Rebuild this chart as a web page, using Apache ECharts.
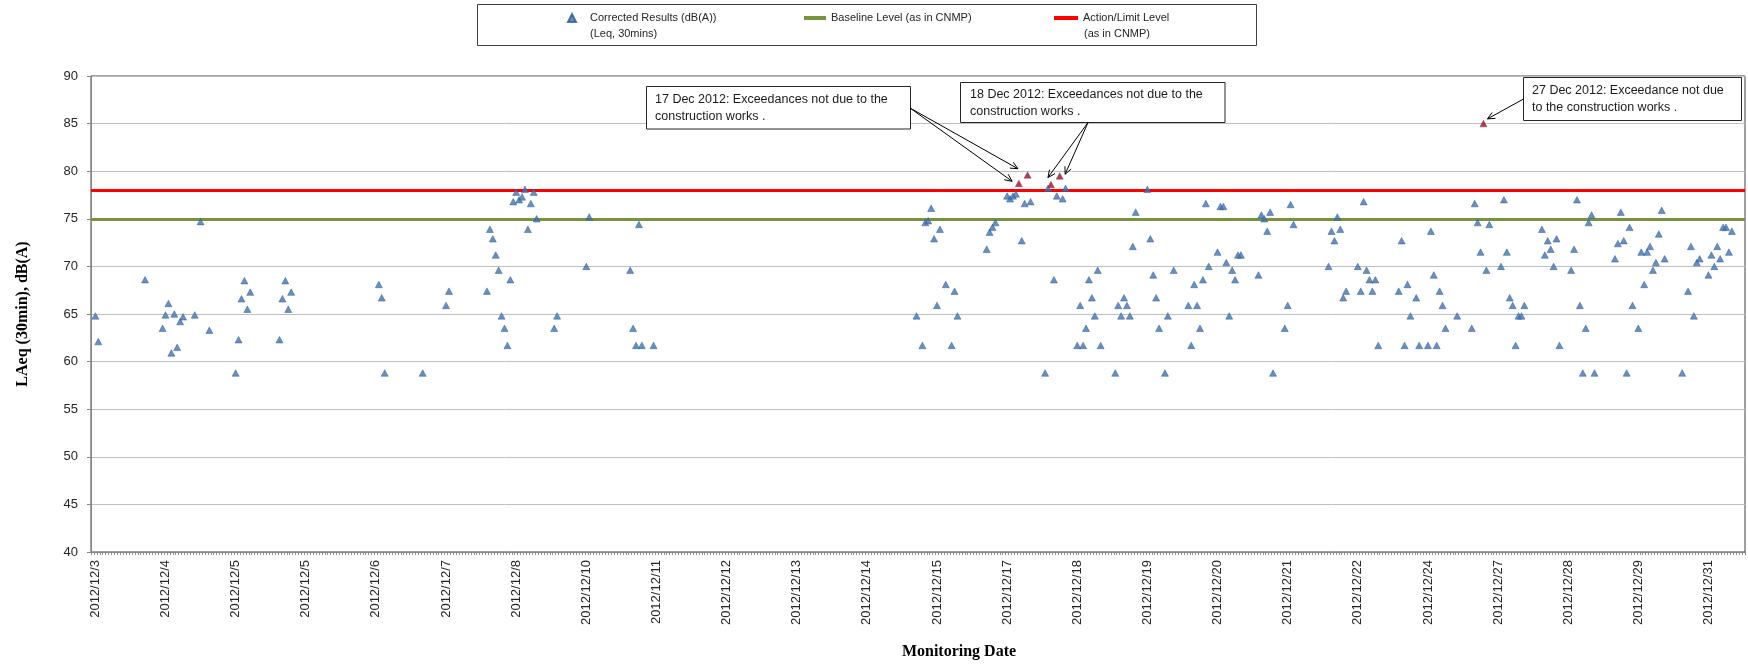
<!DOCTYPE html>
<html>
<head>
<meta charset="utf-8">
<script src="https://cdn.jsdelivr.net/npm/echarts@6/dist/echarts.min.js"></script>
<style>
html,body{margin:0;padding:0;background:#fff;}
#c{width:1748px;height:665px;}
</style>
</head>
<body>
<div id="c"></div>
<script>
// ---------------- data ----------------
const tickLabels = ['2012/12/3','2012/12/4','2012/12/5','2012/12/5','2012/12/6','2012/12/7','2012/12/8','2012/12/10','2012/12/11','2012/12/12','2012/12/13','2012/12/14','2012/12/15','2012/12/17','2012/12/18','2012/12/19','2012/12/20','2012/12/21','2012/12/22','2012/12/24','2012/12/27','2012/12/28','2012/12/29','2012/12/31'];
const categoryCount = 566;   // half-hour records on the category axis
const labelStart = 1;        // first labelled record
const labelStep = 24;        // one label every 24 records

const resultIdx = [
  1,2,18,24,25,26,27,28,29,30,31,35,37,40,49,50,51,52,53,54,64,65,66,67,68,
  98,99,100,113,121,122,135,136,137,138,139,140,141,142,143,144,145,146,147,148,149,150,151,152,158,159,169,170,184,185,186,187,188,192,
  282,284,285,286,287,288,289,290,292,294,295,296,306,307,308,309,313,314,315,316,318,319,321,326,327,329,330,332,333,337,338,339,340,341,342,343,344,345,350,351,352,353,354,355,356,357,361,362,363,364,365,367,368,370,
  375,376,377,378,379,380,381,382,385,386,387,388,389,390,391,392,393,399,400,401,402,403,404,408,409,410,411,423,424,425,426,427,428,429,433,434,435,436,437,438,439,440,447,448,449,450,451,453,454,457,458,459,460,461,462,463,467,
  472,473,474,475,477,478,482,483,484,485,486,487,488,489,490,496,497,498,499,500,501,502,506,507,508,509,510,511,512,513,514,521,522,523,524,525,526,527,529,530,531,532,533,534,535,536,537,538,544,546,547,548,549,550,553,554,555,556,557,558,559,560,561
];
const resultVal = [
  64.8,62.1,68.6,63.5,64.9,66.1,60.9,65.0,61.5,64.2,64.7,64.9,74.7,63.3,58.8,62.3,66.6,68.5,65.5,67.3,62.3,66.6,68.5,65.5,67.3,
  68.1,66.7,58.8,58.8,65.9,67.4,67.4,73.9,72.9,71.2,69.6,64.8,63.5,61.7,68.6,76.8,77.8,77.0,77.3,78.1,73.9,76.6,77.8,75.0,63.5,64.8,70.0,75.2,69.6,63.5,61.7,74.4,61.7,61.7,
  64.8,61.7,74.6,74.8,76.1,72.9,65.9,73.9,68.1,61.7,67.4,64.8,71.8,73.6,74.1,74.6,77.4,77.1,77.4,77.6,72.7,76.6,76.8,58.8,78.2,68.6,77.4,77.1,78.2,61.7,65.9,61.7,63.5,68.6,66.7,64.8,69.6,61.7,58.8,65.9,64.8,66.7,65.9,64.8,72.1,75.7,78.1,72.9,69.1,66.7,63.5,58.8,64.8,69.6,
  65.9,61.7,68.1,65.9,63.5,68.6,76.6,70.0,71.5,76.3,76.3,70.4,64.8,69.6,68.6,71.2,71.2,69.1,75.4,75.0,73.7,75.7,58.8,63.5,65.9,76.5,74.4,70.0,73.7,72.7,75.2,73.9,66.7,67.4,70.0,67.4,76.8,69.6,68.6,67.4,68.6,61.7,67.4,72.7,61.7,68.1,64.8,66.7,61.7,61.7,73.7,69.1,61.7,67.4,65.9,63.5,64.8,
  63.5,76.6,74.6,71.5,69.6,74.4,70.0,77.0,71.5,66.7,65.9,61.7,64.8,64.8,65.9,73.9,71.2,72.7,71.8,70.0,72.9,61.7,69.6,71.8,77.0,65.9,58.8,63.5,74.6,75.4,58.8,70.8,72.4,75.7,72.7,58.8,74.1,65.9,63.5,71.5,68.1,71.5,72.1,69.6,70.4,73.4,75.9,70.8,58.8,67.4,72.1,64.8,70.4,70.8,69.1,71.2,70.0,72.1,70.8,74.1,74.1,71.5,73.7
];
// exceedances (drawn red)
const exceedIdx = [317,320,328,331,476];
const exceedVal = [78.7,79.6,78.6,79.5,85.0];

const baselineLevel = 75;
const limitLevel = 78;

const seriesNames = ['Corrected Results (dB(A))', 'Baseline Level (as in CNMP)', 'Action/Limit Level'];
const noteTexts = [
  '17 Dec 2012: Exceedances not due to the\nconstruction works .',
  '18 Dec 2012: Exceedances not due to the\nconstruction works .',
  '27 Dec 2012: Exceedance not due\nto the construction works .'
];

// ---------------- chart ----------------
const FONT = "'Liberation Sans', Arial, sans-serif";
const SERIF = "'Liberation Serif', 'Times New Roman', serif";
const categories = Array.from({length: categoryCount}, (_, i) => String(i));
const chart = echarts.init(document.getElementById('c'), null, {renderer: 'canvas'});

const legendCommon = {
  orient: 'horizontal', padding: 0, selectedMode: false, itemGap: 0,
  textStyle: {fontFamily: FONT, fontSize: 11, color: '#262626', lineHeight: 14}
};

const option = {
  animation: false,
  backgroundColor: '#fff',
  grid: {left: 91, right: 3, top: 76, bottom: 113, show: true, borderColor: '#404040', borderWidth: 1, containLabel: false, outerBoundsMode: 'none'},
  legend: [
    Object.assign({}, legendCommon, {left: 567, top: 11, itemWidth: 26, itemHeight: 8,
      data: [{name: seriesNames[0], icon: 'path://M5,0 L10,10 L0,10 Z'}]}),
    Object.assign({}, legendCommon, {left: 804, top: 11, itemWidth: 22, itemHeight: 4,
      data: [{name: seriesNames[1], icon: 'rect'}]}),
    Object.assign({}, legendCommon, {left: 1054, top: 11, itemWidth: 24, itemHeight: 4,
      data: [{name: seriesNames[2], icon: 'rect'}]})
  ],
  xAxis: {
    type: 'category',
    data: categories,
    boundaryGap: true,
    name: 'Monitoring Date',
    nameLocation: 'middle',
    nameGap: 92,
    nameTextStyle: {fontFamily: SERIF, fontWeight: 'bold', fontSize: 16, color: '#000', padding: [0, 0, 0, 82]},
    axisLine: {show: true, lineStyle: {color: '#868686', width: 1}},
    axisTick: {show: true, interval: 0, length: 3, lineStyle: {color: '#8c8c8c', width: 1}},
    axisLabel: {
      show: true,
      interval: (i) => (i - labelStart) % labelStep === 0 && i >= labelStart,
      formatter: (v, i) => {
        const k = (i - labelStart) / labelStep;
        return Number.isInteger(k) && k >= 0 && k < tickLabels.length ? tickLabels[k] : '';
      },
      rotate: 90,
      margin: 8,
      fontFamily: FONT, fontSize: 13, color: '#262626'
    },
    splitLine: {show: false}
  },
  yAxis: {
    type: 'value',
    min: 40, max: 90, interval: 5,
    name: 'LAeq (30min), dB(A)',
    nameLocation: 'middle',
    nameRotate: 90,
    nameGap: 60,
    nameTextStyle: {fontFamily: SERIF, fontWeight: 'bold', fontSize: 16, color: '#000'},
    axisLine: {show: true, lineStyle: {color: '#868686', width: 1}},
    axisTick: {show: true, length: 4, lineStyle: {color: '#868686'}},
    axisLabel: {margin: 13, fontFamily: FONT, fontSize: 13, color: '#262626'},
    splitLine: {show: true, lineStyle: {color: '#bfbfbf', width: 1}}
  },
  series: [
    {
      name: seriesNames[0],
      type: 'scatter',
      symbol: 'triangle',
      symbolSize: [7, 6.5],
      itemStyle: {color: '#4472b0', borderColor: '#2d5a92', borderWidth: 0.6},
      data: resultIdx.map((x, i) => [x, resultVal[i]]),
      z: 5
    },
    {
      name: 'Exceedance',
      type: 'scatter',
      symbol: 'triangle',
      symbolSize: [7, 6.5],
      itemStyle: {color: '#c00000', borderColor: '#3a5f93', borderWidth: 0.6},
      data: exceedIdx.map((x, i) => [x, exceedVal[i]]),
      z: 6
    },
    {
      name: seriesNames[1],
      type: 'line',
      data: [],
      itemStyle: {color: '#77933c'},
      lineStyle: {color: '#77933c'},
      markLine: {silent: true, symbol: 'none', label: {show: false},
        lineStyle: {color: '#77933c', width: 3, type: 'solid'},
        data: [{yAxis: baselineLevel}]},
      z: 3
    },
    {
      name: seriesNames[2],
      type: 'line',
      data: [],
      itemStyle: {color: '#ff0000'},
      lineStyle: {color: '#ff0000'},
      markLine: {silent: true, symbol: 'none', label: {show: false},
        lineStyle: {color: '#ff0000', width: 3, type: 'solid'},
        data: [{yAxis: limitLevel}]},
      z: 3
    }
  ]
};
chart.setOption(option);

// ---------------- annotations ----------------
const notes = [
  {box: [646.5, 86.5, 264, 42.5], textX: 655, line1: 99.3, text: noteTexts[0], start: [910, 108],
   targets: [{i: 0, dx: -6.7, dy: -2.3}, {i: 1, dx: -9.7, dy: -6.3}]},
  {box: [960.5, 82.5, 264.5, 40], textX: 970, line1: 94.7, text: noteTexts[1], start: [1088, 122.5],
   targets: [{i: 2, dx: -3, dy: -7}, {i: 3, dx: 5.4, dy: -1.7}]},
  {box: [1523.5, 77.5, 218, 43], textX: 1532, line1: 90.7, text: noteTexts[2], start: [1523.5, 99],
   targets: [{i: 4, dx: 4, dy: -4.7}]}
];

function buildGraphics() {
  const els = [];
  els.push({type: 'rect', silent: true, shape: {x: 477.5, y: 4.5, width: 779, height: 41},
    style: {fill: 'none', stroke: '#404040', lineWidth: 1}});
  els.push({type: 'text', silent: true, x: 590, y: 33.5,
    style: {text: '(Leq, 30mins)', fontFamily: FONT, fontSize: 11, fill: '#262626', verticalAlign: 'middle'}});
  els.push({type: 'text', silent: true, x: 1084, y: 33.5,
    style: {text: '(as in CNMP)', fontFamily: FONT, fontSize: 11, fill: '#262626', verticalAlign: 'middle'}});
  const LH = 17;
  notes.forEach(n => {
    els.push({type: 'rect', silent: true, z: 20, shape: {x: n.box[0], y: n.box[1], width: n.box[2], height: n.box[3]},
      style: {fill: '#fff', stroke: '#262626', lineWidth: 1}});
    els.push({type: 'text', silent: true, z: 21, x: n.textX, y: n.line1 - LH / 2,
      style: {text: n.text, fontFamily: FONT, fontSize: 12.5, lineHeight: LH, fill: '#1a1a1a', verticalAlign: 'top'}});
    n.targets.forEach(t => {
      const p = chart.convertToPixel({gridIndex: 0}, [exceedIdx[t.i], exceedVal[t.i]]);
      const tip = [p[0] + t.dx, p[1] + t.dy];
      const dxl = tip[0] - n.start[0], dyl = tip[1] - n.start[1];
      const len = Math.hypot(dxl, dyl);
      const ux = dxl / len, uy = dyl / len;
      const a = 25 * Math.PI / 180, h = 8;
      const rot = (ang) => [tip[0] - h * (ux * Math.cos(ang) - uy * Math.sin(ang)),
                            tip[1] - h * (ux * Math.sin(ang) + uy * Math.cos(ang))];
      els.push({type: 'line', silent: true, z: 21, shape: {x1: n.start[0], y1: n.start[1], x2: tip[0], y2: tip[1]},
        style: {stroke: '#000', lineWidth: 1}});
      els.push({type: 'polyline', silent: true, z: 21, shape: {points: [rot(a), tip, rot(-a)]},
        style: {stroke: '#000', lineWidth: 1, fill: null}});
    });
  });
  return els;
}
chart.setOption({graphic: {elements: buildGraphics()}});
</script>
</body>
</html>
